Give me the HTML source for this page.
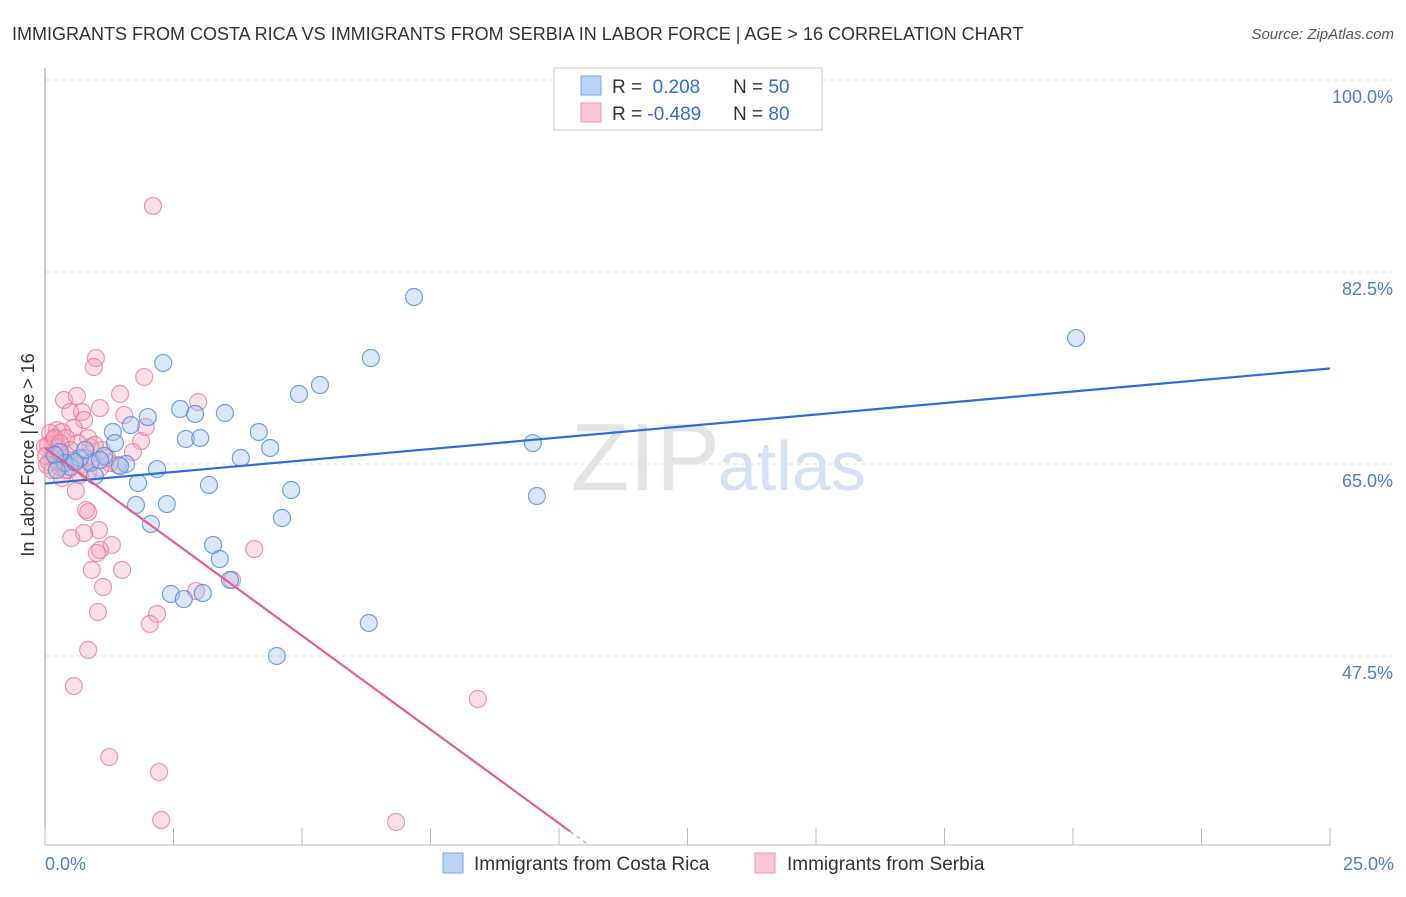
<!DOCTYPE html>
<html><head><meta charset="utf-8"><style>
body{margin:0;background:#fff;width:1406px;height:892px;overflow:hidden;font-family:"Liberation Sans",sans-serif}
svg text{font-family:"Liberation Sans",sans-serif}
</style></head><body>
<svg width="1406" height="892" xmlns="http://www.w3.org/2000/svg">
<text x="12" y="40" font-size="18" fill="#333">IMMIGRANTS FROM COSTA RICA VS IMMIGRANTS FROM SERBIA IN LABOR FORCE | AGE &gt; 16 CORRELATION CHART</text>
<text x="1394" y="39" font-size="15" fill="#555" font-style="italic" text-anchor="end">Source: ZipAtlas.com</text>
<g id="grid"></g>
<text x="720" y="490" font-size="96" fill="#e4e4e4" text-anchor="end" font-family="Liberation Serif">ZIP</text>
<text x="718" y="490" font-size="70" fill="#d6e2f4">atlas</text>
<line x1="45" y1="68" x2="45" y2="845" stroke="#999"/>
<line x1="45" y1="845" x2="1330" y2="845" stroke="#bbb"/>
<g id="ticks"></g>
<g id="pink"></g><g id="blue"></g><g id="trend"></g>
<text x="34" y="455" font-size="18" fill="#333" text-anchor="middle" transform="rotate(-90 34 455)">In Labor Force | Age &gt; 16</text>
<text x="45" y="870" font-size="18" fill="#4a7fd4">0.0%</text>
<text x="1394" y="870" font-size="18" fill="#4a7fd4" text-anchor="end">25.0%</text>
<g>
<rect x="554" y="68" width="268" height="62" fill="#fff" stroke="#ccc"/>
<rect x="581" y="76" width="20" height="19" fill="#bcd3f5" stroke="#7aa5e2"/>
<rect x="581" y="103" width="20" height="19" fill="#f9c6d5" stroke="#eb98b2"/>
<text x="612" y="93" font-size="19" fill="#333">R = <tspan fill="#2f6fd1">&#160;0.208</tspan></text>
<text x="733" y="93" font-size="19" fill="#333">N = <tspan fill="#2f6fd1">50</tspan></text>
<text x="612" y="120" font-size="19" fill="#333">R = <tspan fill="#2f6fd1">-0.489</tspan></text>
<text x="733" y="120" font-size="19" fill="#333">N = <tspan fill="#2f6fd1">80</tspan></text>
</g>
<g>
<rect x="443" y="853" width="20" height="20" fill="#bcd3f5" stroke="#7aa5e2"/>
<text x="474" y="870" font-size="19" fill="#333">Immigrants from Costa Rica</text>
<rect x="755" y="853" width="20" height="20" fill="#f9c6d5" stroke="#eb98b2"/>
<text x="787" y="870" font-size="19" fill="#333">Immigrants from Serbia</text>
</g>
</svg>
<script>
const yTicks=[100,82.5,65,47.5];
const yTickLabels=["100.0%","82.5%","65.0%","47.5%"];
const xTickVals=[0,2.5,5,7.5,10,12.5,15,17.5,20,22.5,25];
const blueX=[7.18,20.06,6.34,2.30,5.35,4.94,2.00,2.63,2.92,3.50,1.67,1.32,4.16,2.74,3.02,1.36,9.49,4.38,3.81,1.15,0.88,1.58,2.18,0.97,1.81,3.19,4.79,9.57,1.77,2.37,4.61,2.06,3.27,3.40,3.60,2.45,2.70,3.07,6.30,4.51,0.29,0.39,0.68,0.49,0.19,1.07,1.46,0.78,0.58,0.23];
const blueY=[80.22,76.48,74.66,74.21,72.20,71.38,69.28,70.01,69.56,69.65,68.55,67.92,67.92,67.28,67.37,66.91,66.91,66.46,65.55,65.73,65.09,65.00,64.54,63.91,63.27,63.09,62.63,62.08,61.26,61.35,60.08,59.53,57.62,56.34,54.43,53.15,52.69,53.24,50.51,47.50,66.09,65.09,65.55,64.73,65.82,65.36,64.82,66.28,65.18,64.45];
const pinkX=[2.10,0.99,0.95,1.93,0.37,1.46,0.62,1.07,2.98,0.49,0.72,1.54,0.76,0.23,0.56,0.33,0.84,1.87,1.96,0.41,0.16,0.06,0.25,0.88,1.11,1.71,0.19,0.35,0.53,0.08,0.68,1.26,1.42,0.29,0.45,0.14,0.84,1.07,0.33,0.60,0.80,0.84,0.51,1.05,0.76,1.30,1.07,4.07,1.01,0.91,1.50,1.13,1.03,2.18,2.04,2.94,3.64,0.84,0.56,8.42,1.25,2.22,2.26,6.83,0.00,0.02,0.04,0.25,0.41,0.64,0.80,0.97,1.21,0.10,0.19,0.29,0.49,0.91,0.39,0.68];
const pinkY=[88.52,74.66,73.84,72.93,70.83,71.38,71.20,70.10,70.65,69.74,69.74,69.46,69.01,68.10,68.28,67.92,67.37,67.09,68.37,67.37,67.19,66.73,66.46,66.55,66.28,66.09,65.82,65.55,65.36,65.18,64.91,65.09,64.91,64.73,64.45,64.45,64.27,64.63,63.72,62.54,60.81,60.62,58.25,58.98,58.71,57.62,57.16,57.25,56.89,55.34,55.34,53.79,51.51,51.33,50.42,53.42,54.43,48.05,44.76,43.58,38.29,36.92,32.55,32.37,66.55,65.73,64.91,65.18,65.82,66.91,65.55,66.73,65.55,67.83,67.37,66.91,66.28,65.18,64.45,64.00];
const NS="http://www.w3.org/2000/svg";
const xs=v=>45+v/25*1285;
const ys=v=>80+(100-v)/17.5*192;
function mk(t,a,p){const e=document.createElementNS(NS,t);for(const k in a)e.setAttribute(k,a[k]);p.appendChild(e);return e;}
const grid=document.getElementById('grid');
yTicks.forEach((v,i)=>{
 const l=mk('line',{x1:45,x2:1394,y1:ys(v),y2:ys(v),stroke:'#ddd','stroke-dasharray':'4,4'},grid);
 
 
 const t=mk('text',{x:1393,y:ys(v)+23,'font-size':18,fill:'#4a7fd4','text-anchor':'end'},grid);
 t.textContent=yTickLabels[i];
 
 
});
const tk=document.getElementById('ticks');
xTickVals.forEach(v=>{
 const l=mk('line',{x1:xs(v),x2:xs(v),y1:828,y2:845,stroke:'#bbb'},tk);
 
 
});
function pts(X,Y,g,fill,stroke,name){
 X.forEach((x,i)=>{
  const c=mk('circle',{cx:xs(x),cy:ys(Y[i]),r:8.5,fill:fill,stroke:stroke,'stroke-width':1.2},g);
  
  
 });
}
pts(pinkX,pinkY,document.getElementById('pink'),'rgba(244,160,185,0.35)','rgba(230,120,155,0.75)','serbia-point');
pts(blueX,blueY,document.getElementById('blue'),'rgba(160,195,240,0.4)','rgba(80,140,220,0.8)','costa-rica-point');
function reg(X,Y){const n=X.length;let mx=0,my=0;for(let i=0;i<n;i++){mx+=X[i];my+=Y[i];}mx/=n;my/=n;let sxy=0,sxx=0;for(let i=0;i<n;i++){sxy+=(X[i]-mx)*(Y[i]-my);sxx+=(X[i]-mx)**2;}const b=sxy/sxx;return [my-b*mx,b];}
const tr=document.getElementById('trend');
const [ba,bb]=reg(blueX,blueY);
let l=mk('line',{x1:xs(0),y1:ys(ba),x2:xs(25),y2:ys(ba+bb*25),stroke:'#2a6fd6','stroke-width':2.2},tr);


const [pa,pb]=reg(pinkX,pinkY);
const yEnd=31.5;let xe=(yEnd-pa)/pb;if(!(xe>0&&xe<25))xe=25;
l=mk('line',{x1:xs(0),y1:ys(pa),x2:xs(xe),y2:ys(pa+pb*xe),stroke:'#e0608c','stroke-width':2.2},tr);


const xe2=(30.3-pa)/pb;
if(xe2>xe&&xe2<25){l=mk('line',{x1:xs(xe),y1:ys(pa+pb*xe),x2:xs(xe2),y2:ys(30.3),stroke:'#e8a0b8','stroke-width':1.5,'stroke-dasharray':'4,4'},tr);

}
</script>
</body></html>
